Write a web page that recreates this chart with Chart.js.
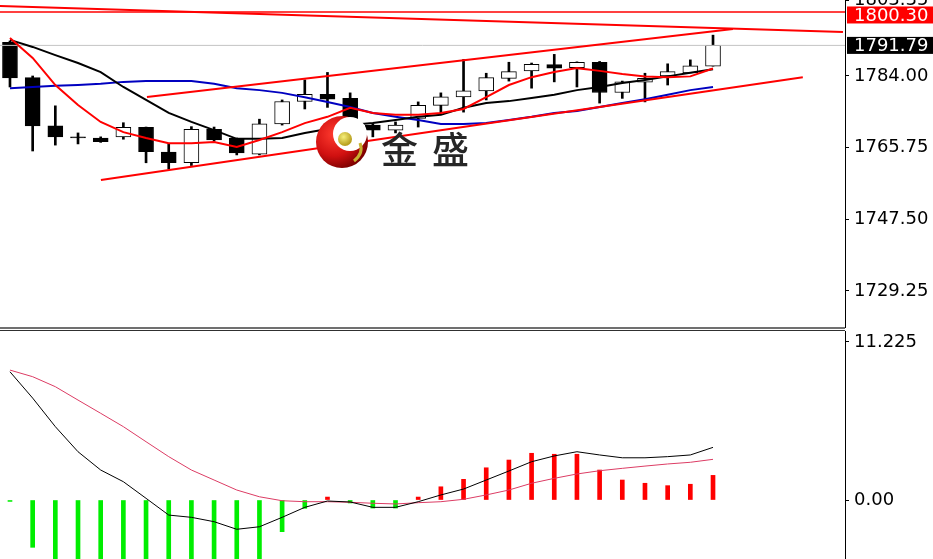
<!DOCTYPE html>
<html>
<head>
<meta charset="utf-8">
<script src="https://cdn.jsdelivr.net/npm/chart.js@4.4.0/dist/chart.umd.min.js"></script>
<style>
  body { margin: 0; background: #fff; }
  #wrap { position: relative; width: 933px; height: 559px; overflow: hidden; background: #fff; }
  canvas { position: absolute; left: 0; }
  .sep { position: absolute; left: 0; width: 845px; }
  .wm { position: absolute; top: 121px; font: 500 37px "Noto Sans CJK SC"; color: #262626; }
</style>
</head>
<body>
<div id="wrap">
  <canvas id="chart-price" width="933" height="330" style="top:0"></canvas>
  <canvas id="chart-macd" width="933" height="228" style="top:331px"></canvas>
  <div class="sep" style="top:327px;height:2px;background:#707070"></div>
  <div class="sep" style="top:330px;height:1px;background:#303030"></div>
  <svg style="position:absolute;left:315px;top:115px" width="54" height="54" viewBox="0 0 54 54">
    <defs>
      <radialGradient id="rg" cx="35%" cy="35%" r="70%">
        <stop offset="0" stop-color="#ff3b2f"/><stop offset="0.6" stop-color="#d01010"/><stop offset="1" stop-color="#7a0000"/>
      </radialGradient>
      <radialGradient id="gg" cx="40%" cy="35%" r="60%">
        <stop offset="0" stop-color="#f6ef7a"/><stop offset="1" stop-color="#b8a020"/>
      </radialGradient>
    </defs>
    <circle cx="27" cy="27" r="26" fill="url(#rg)"/>
    <circle cx="35" cy="19" r="17" fill="#fff"/>
    <circle cx="30" cy="24" r="7" fill="url(#gg)"/>
    <path d="M45 28 Q49 38 39 46" stroke="#c8b030" stroke-width="3" fill="none"/>
  </svg>
  <div class="wm" style="left:381px">金</div>
  <div class="wm" style="left:432px">盛</div>
</div>

<script>
// ____ cours (bougies) ____
const candleOpen  = [1792.6, 1783.6, 1771.3, 1768.5, 1768.2, 1768.5, 1770.9, 1764.6, 1761.9, 1770.4, 1768.1, 1764.1, 1771.8, 1777.5, 1779.3, 1778.3, 1771.5, 1770.2, 1773.2, 1776.5, 1778.7, 1780.2, 1783.4, 1785.3, 1786.9, 1786.1, 1787.5, 1779.8, 1782.4, 1784.0, 1784.8, 1786.5];
const candleHigh  = [1792.9, 1784.0, 1776.4, 1769.5, 1768.5, 1772.1, 1771.0, 1766.7, 1771.1, 1771.0, 1768.2, 1773.0, 1777.9, 1783.0, 1784.9, 1779.7, 1771.8, 1772.3, 1777.4, 1779.7, 1788.2, 1784.7, 1787.5, 1787.3, 1789.5, 1787.6, 1787.7, 1782.7, 1784.7, 1787.1, 1788.1, 1794.4];
const candleLow   = [1781.2, 1764.9, 1766.4, 1766.7, 1767.1, 1767.9, 1761.9, 1760.3, 1761.2, 1767.4, 1763.9, 1763.9, 1771.5, 1775.6, 1776.0, 1770.2, 1768.5, 1769.5, 1771.0, 1774.6, 1774.8, 1777.9, 1782.7, 1780.9, 1782.5, 1781.2, 1777.1, 1778.3, 1777.4, 1781.7, 1784.8, 1786.5];
const candleClose = [1783.5, 1771.3, 1768.5, 1768.2, 1767.3, 1770.9, 1764.7, 1761.9, 1770.4, 1767.7, 1764.4, 1771.8, 1777.5, 1779.3, 1778.1, 1771.3, 1770.2, 1771.5, 1776.5, 1778.7, 1780.2, 1783.6, 1785.1, 1787.0, 1786.0, 1787.5, 1779.8, 1782.5, 1783.4, 1785.1, 1786.6, 1791.79];

// moyennes mobiles
const maRed   = [1793.7, 1788.6, 1781.7, 1776.6, 1772.3, 1769.7, 1768.2, 1766.9, 1766.9, 1767.2, 1765.9, 1767.7, 1769.7, 1772.0, 1773.6, 1775.9, 1774.6, 1774.1, 1774.1, 1774.6, 1775.6, 1778.6, 1781.7, 1783.7, 1785.0, 1786.0, 1785.3, 1784.5, 1783.9, 1783.7, 1783.9, 1785.9];
const maBlack = [1793.2, 1791.4, 1789.3, 1787.3, 1785.0, 1781.2, 1777.9, 1774.6, 1772.3, 1770.2, 1768.0, 1768.0, 1768.2, 1769.5, 1770.5, 1771.5, 1772.0, 1772.8, 1773.6, 1774.1, 1775.9, 1777.1, 1777.6, 1778.4, 1779.2, 1780.4, 1781.2, 1782.2, 1783.0, 1783.9, 1784.8, 1785.7];
const maBlue  = [1780.9, 1781.2, 1781.5, 1781.7, 1782.0, 1782.5, 1782.7, 1782.7, 1782.7, 1782.0, 1780.9, 1780.4, 1779.7, 1778.6, 1777.4, 1776.1, 1774.6, 1773.6, 1772.8, 1771.8, 1771.8, 1772.0, 1772.8, 1773.6, 1774.6, 1775.1, 1776.1, 1777.1, 1778.1, 1779.2, 1780.4, 1781.2];

// lignes de tendance (x = index de bougie)
const channelTop    = [{x: 6.04, y: 1778.65}, {x: 31.88, y: 1795.97}];
const channelBottom = [{x: 4.01, y: 1757.5}, {x: 34.96, y: 1783.7}];
const resistance    = [{x: -0.44, y: 1801.8}, {x: 36.73, y: 1795.2}];
const levelRed   = 1800.30;
const lastPrice  = 1791.79;

const priceTicks = [1803.35, 1784.00, 1765.75, 1747.50, 1729.25];

// ____ MACD ____
const macdHist   = [-0.1, -3.36, -4.9, -5.6, -6.0, -6.2, -6.3, -6.2, -6.0, -5.6, -5.0, -4.5, -2.25, -0.59, 0.21, -0.21, -0.57, -0.57, 0.21, 0.94, 1.47, 2.29, 2.84, 3.32, 3.25, 3.25, 2.13, 1.42, 1.19, 1.02, 1.12, 1.75];
const macdLine   = [9.11, 7.24, 5.21, 3.43, 2.13, 1.30, 0.12, -1.07, -1.23, -1.54, -2.08, -1.90, -1.23, -0.52, -0.07, -0.14, -0.52, -0.52, -0.12, 0.36, 0.78, 1.42, 2.06, 2.72, 3.13, 3.43, 3.20, 3.00, 3.00, 3.08, 3.20, 3.74];
const signalLine = [9.23, 8.76, 8.05, 7.10, 6.16, 5.21, 4.14, 3.08, 2.13, 1.42, 0.71, 0.23, -0.05, -0.12, -0.12, -0.16, -0.23, -0.28, -0.19, -0.12, 0.05, 0.36, 0.71, 1.19, 1.54, 1.85, 2.08, 2.25, 2.41, 2.56, 2.68, 2.89];
const macdTicks = [0, 11.225];
const macdTickLabels = ['0.00', '11.225'];

const X_MIN = -0.44, X_MAX = 36.82;
const FONT = {family: 'DejaVu Sans', size: 18};

function pts(arr) {
    return arr.map(function (v, i) { return {x: i, y: v}; });
}

function lineDs(data, color, width) {
    return {type: 'line', data: data, borderColor: color, borderWidth: width, pointRadius: 0, tension: 0, fill: false};
}

function rightAxis(min, max, ticks, fmt) {
    return {
        position: 'right', min: min, max: max,
        afterBuildTicks: function (s) { s.ticks = ticks.map(function (v) { return {value: v}; }); },
        afterFit: function (s) { s.width = 88; s.paddingTop = 0; s.paddingBottom = 0; },
        grid: {drawOnChartArea: false, drawTicks: true, tickLength: 4, tickColor: '#000'},
        border: {display: true, color: '#000', width: 1},
        ticks: {autoSkip: false, padding: 5, color: '#000', font: FONT, callback: fmt}
    };
}

const xAxis = {type: 'linear', display: false, min: X_MIN, max: X_MAX, offset: false};

// étiquettes de prix sur l'axe
const priceTags = {
    id: 'priceTags',
    afterDraw: function (chart) {
        const ctx = chart.ctx;
        const y = chart.scales.y;
        [[levelRed, '#ff0000', 3], [lastPrice, '#000000', 0]].forEach(function (t) {
            const py = y.getPixelForValue(t[0]) + t[2];
            ctx.save();
            ctx.fillStyle = t[1];
            ctx.fillRect(847, py - 8.5, 86, 17);
            ctx.fillStyle = '#fff';
            ctx.font = '18px "DejaVu Sans"';
            ctx.textBaseline = 'middle';
            ctx.fillText(t[0].toFixed(2), 854, py + 1);
            ctx.restore();
        });
    }
};

const bodies = candleOpen.map(function (o, i) {
    return {x: i, y: [Math.min(o, candleClose[i]), Math.max(o, candleClose[i])]};
});
const wicks = candleLow.map(function (l, i) { return {x: i, y: [l, candleHigh[i]]}; });

new Chart(document.getElementById('chart-price'), {
    type: 'bar',
    data: {
        datasets: [
            lineDs(channelTop, '#ff0000', 2),
            lineDs(channelBottom, '#ff0000', 2),
            lineDs(resistance, '#ff0000', 2),
            lineDs(pts(maRed), '#ff0000', 2),
            lineDs(pts(maBlack), '#000000', 2),
            lineDs(pts(maBlue), '#0000c0', 2),
            lineDs([{x: X_MIN, y: levelRed}, {x: X_MAX, y: levelRed}], '#ff0000', 1.5),
            lineDs([{x: X_MIN, y: lastPrice}, {x: X_MAX, y: lastPrice}], '#c4c4c4', 1),
            {
                data: bodies,
                backgroundColor: candleOpen.map(function (o, i) { return candleClose[i] >= o ? '#ffffff' : '#000000'; }),
                borderColor: '#000', borderWidth: 1, borderSkipped: false,
                barThickness: 15, grouped: false
            },
            {data: wicks, backgroundColor: '#000', barThickness: 2, grouped: false}
        ]
    },
    options: {
        responsive: false, animation: false, events: [],
        layout: {padding: {top: 0, right: 0, bottom: 3, left: 0}},
        plugins: {legend: {display: false}, tooltip: {enabled: false}},
        scales: {
            x: xAxis,
            y: rightAxis(1720.08, 1803.35, priceTicks, function (v) { return v.toFixed(2); })
        }
    },
    plugins: [priceTags]
});

new Chart(document.getElementById('chart-macd'), {
    type: 'bar',
    data: {
        datasets: [
            lineDs(pts(macdLine), '#000000', 1),
            lineDs(pts(signalLine), '#dc3c64', 1),
            {
                data: pts(macdHist),
                backgroundColor: macdHist.map(function (v) { return v >= 0 ? '#ff0000' : '#00ee00'; }),
                barThickness: 4, grouped: false
            }
        ]
    },
    options: {
        responsive: false, animation: false, events: [],
        layout: {padding: 0},
        plugins: {legend: {display: false}, tooltip: {enabled: false}},
        scales: {
            x: xAxis,
            y: rightAxis(-4.19, 12.006, macdTicks, function (v, i) { return macdTickLabels[i]; })
        }
    }
});
</script>
</body>
</html>
